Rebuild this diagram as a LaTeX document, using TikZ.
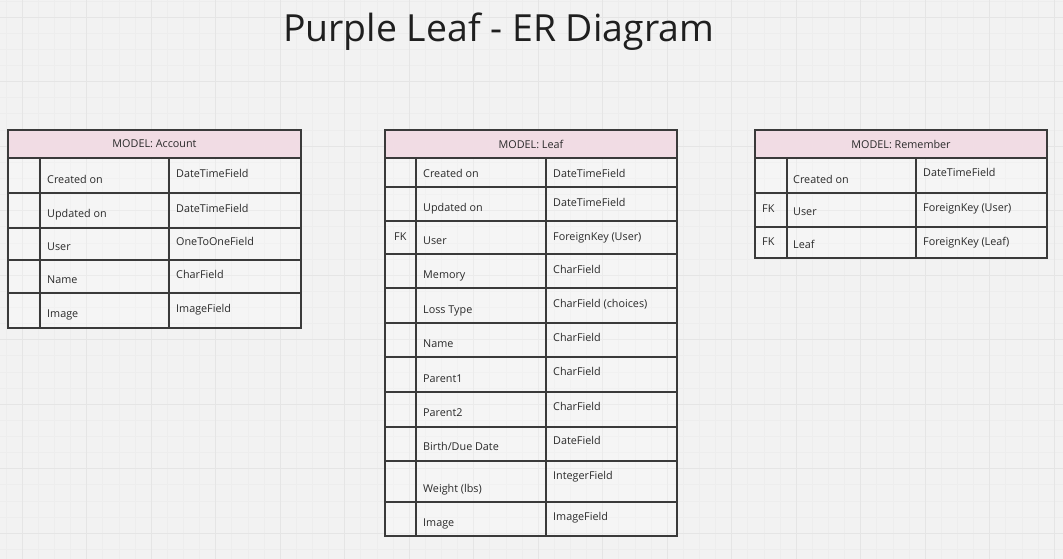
\documentclass[tikz,border=0pt]{standalone}
\usepackage{fontspec}
\setmainfont{Open Sans}
\definecolor{bgc}{HTML}{F2F2F2}
\definecolor{minorc}{HTML}{EDEDED}
\definecolor{majorc}{HTML}{E5E5E5}
\definecolor{headc}{HTML}{F1DCE4}
\definecolor{linec}{HTML}{3A3A3A}
\definecolor{txtc}{HTML}{2A2A2A}
\tikzset{
  minorgrid/.style={draw=minorc, line width=0.5pt},
  majorgrid/.style={draw=majorc, line width=0.8pt},
  tline/.style={draw=linec, line width=1.3pt},
  cellbg/.style={fill=white, fill opacity=0.25},
  headbg/.style={fill=headc},
  hdr/.style={font=\fontsize{10.8}{12}\selectfont, text=txtc, inner sep=0pt},
  cell/.style={font=\fontsize{10.8}{12}\selectfont, text=txtc, anchor=base west, inner sep=0pt},
  titlestyle/.style={font=\fontsize{37.4}{40}\selectfont, text=black!88, anchor=base west, inner sep=0pt}
}
\begin{document}
\begin{tikzpicture}[x=1pt,y=-1pt]
\useasboundingbox (0,0) rectangle (1063,559);
\fill[bgc] (0,0) rectangle (1063,559);
% grid
\foreach \i in {0,...,66} { \draw[minorgrid] ({5.875+16.125*\i},0) -- ++(0,559); }
\foreach \i in {0,...,35} { \draw[minorgrid] (0,{0.875+16.125*\i}) -- ++(1063,0); }
\foreach \i in {0,...,16} { \draw[majorgrid] ({22+64.5*\i},0) -- ++(0,559); }
\foreach \i in {0,...,8} { \draw[majorgrid] (0,{17+64.5*\i}) -- ++(1063,0); }

% title
\node[titlestyle] (title) at (283,42) {Purple Leaf - ER Diagram};

% ---------- Account ----------
\fill[cellbg] (8,158) rectangle (301,328);
\fill[headbg] (8,130) rectangle (301,158);
\draw[tline] (8,130) rectangle (301,328);
\draw[tline] (8,158) -- (301,158);
\foreach \yy in {193,228,260,293} { \draw[tline] (8,\yy) -- (301,\yy); }
\draw[tline] (40,158) -- (40,328);
\draw[tline] (169,158) -- (169,328);
\node[hdr] (acc-h) at (154.5,144) {MODEL: Account};
\foreach \nb/\tb/\nm/\ty [count=\k] in {
  183/177/{Created on}/{DateTimeField},
  217/212/{Updated on}/{DateTimeField},
  250/245/{User}/{OneToOneField},
  283/278/{Name}/{CharField},
  317/312/{Image}/{ImageField}} {
  \node[cell] (acc-n\k) at (47,\nb) {\nm};
  \node[cell] (acc-t\k) at (176,\tb) {\ty};
}

% ---------- Leaf ----------
\fill[cellbg] (385,158) rectangle (677,536);
\fill[headbg] (385,130) rectangle (677,158);
\draw[tline] (385,130) rectangle (677,536);
\draw[tline] (385,158) -- (677,158);
\foreach \yy in {187,221,254,288,323,357,392,427,461,502} { \draw[tline] (385,\yy) -- (677,\yy); }
\draw[tline] (416,158) -- (416,536);
\draw[tline] (546,158) -- (546,536);
\node[hdr] (leaf-h) at (531,144) {MODEL: Leaf};
\foreach \nb/\tb/\nm/\ty [count=\k] in {
  177/177/{Created on}/{DateTimeField},
  211/206/{Updated on}/{DateTimeField},
  244/240/{User}/{ForeignKey (User)},
  278/273/{Memory}/{CharField},
  313/307/{Loss Type}/{CharField (choices)},
  347/341/{Name}/{CharField},
  382/375/{Parent1}/{CharField},
  416/410/{Parent2}/{CharField},
  450/444/{Birth/Due Date}/{DateField},
  492/479/{Weight (lbs)}/{IntegerField},
  526/520/{Image}/{ImageField}} {
  \node[cell] (leaf-n\k) at (423,\nb) {\nm};
  \node[cell] (leaf-t\k) at (553,\tb) {\ty};
}
\node[cell] (leaf-fk) at (394,240) {FK};

% ---------- Remember ----------
\fill[cellbg] (755,158) rectangle (1047,258);
\fill[headbg] (755,130) rectangle (1047,158);
\draw[tline] (755,130) rectangle (1047,258);
\draw[tline] (755,158) -- (1047,158);
\foreach \yy in {193,227} { \draw[tline] (755,\yy) -- (1047,\yy); }
\draw[tline] (787,158) -- (787,258);
\draw[tline] (916,158) -- (916,258);
\node[hdr] (rem-h) at (901,144) {MODEL: Remember};
\foreach \nb/\tb/\nm/\ty [count=\k] in {
  183/176/{Created on}/{DateTimeField},
  215/211/{User}/{ForeignKey (User)},
  248/245/{Leaf}/{ForeignKey (Leaf)}} {
  \node[cell] (rem-n\k) at (793,\nb) {\nm};
  \node[cell] (rem-t\k) at (923,\tb) {\ty};
}
\node[cell] (rem-fk1) at (762,212) {FK};
\node[cell] (rem-fk2) at (762,245) {FK};
\end{tikzpicture}
\end{document}
